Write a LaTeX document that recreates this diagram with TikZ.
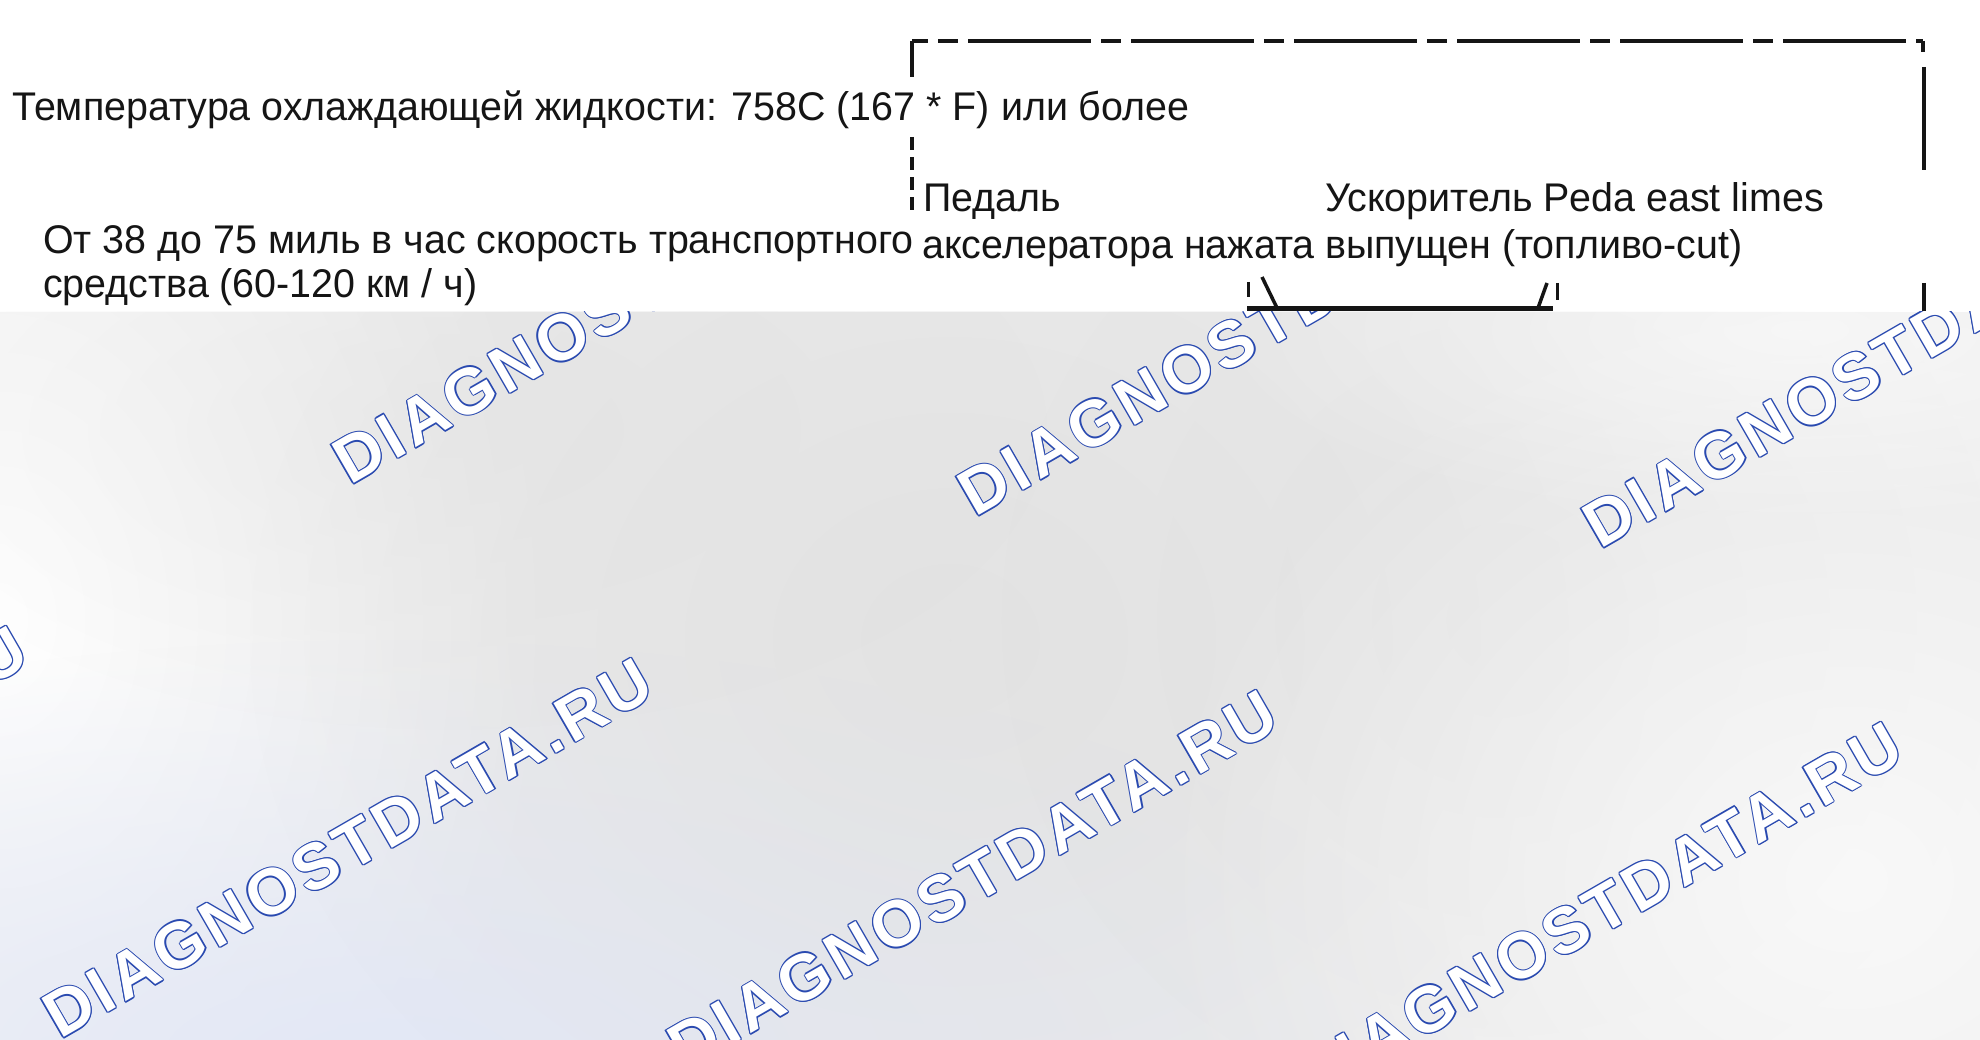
\documentclass[tikz,border=0pt]{standalone}
\usepackage{fontspec}
\setmainfont[FakeStretch=0.985]{Liberation Sans}
\newfontfamily\wmfont[LetterSpace=7]{Liberation Sans}
\usetikzlibrary{fadings}
\definecolor{ink}{HTML}{151515}
\definecolor{wmblue}{HTML}{2A4AB0}
\definecolor{bggrey}{HTML}{EBEBEB}
\definecolor{bluetint}{HTML}{E3E8F6}
\tikzfading[name=blobfade, inner color=transparent!0, outer color=transparent!100]
\tikzset{
  lbl/.style={anchor=base west, inner sep=0pt, text=ink, font=\fontsize{40}{46}\selectfont},
  boxline/.style={draw=ink, line width=3.5pt},
  wmb/.style={anchor=base west, inner sep=0pt, rotate=30, text=wmblue, font=\wmfont\bfseries\fontsize{65}{72}\selectfont},
  wmw/.style={wmb, text=white},
  blob/.style={path fading=blobfade},
}
\newcommand{\wmark}[3]{%
  \foreach \a in {0,45,...,315}{\node[wmb] at ([shift={(\a:1.2)}]#2,#3) {DIAGNOSTDATA.RU};}
  \node[wmw] (#1) at (#2,#3) {DIAGNOSTDATA.RU};
}
\begin{document}
\begin{tikzpicture}[x=1pt,y=-1pt]
\useasboundingbox (0,0) rectangle (1980,1040);
\fill[white] (0,0) rectangle (1980,1040);

% texts
\node[lbl] (t1) at (12,121) {Температура охлаждающей жидкости: 758C (167 * F) или более};
\node[lbl] (t2) at (43,254) {От 38 до 75 миль в час скорость транспортного};
\node[lbl] (t3) at (43,298) {средства (60-120 км / ч)};
\node[lbl] (t4) at (923,212) {Педаль};
\node[lbl] (t5) at (922,259) {акселератора нажата};
\node[lbl] (t6) at (1325,212) {Ускоритель Peda east limes};
\node[lbl] (t7) at (1325,259) {выпущен (топливо-cut)};

% dashed frame
\coordinate (tl) at (912,41);
\coordinate (tr) at (1923,41);
\draw[boxline, dash pattern=on 123pt off 10pt on 20pt off 10pt, dash phase=107pt] (tl) -- (tr);
\draw[boxline] (tl) -- (912,77);
\draw[boxline, dash pattern=on 13pt off 7pt] (912,137) -- (912,210);
\draw[boxline] (tr) -- (1923,52);
\draw[boxline] (1924,67) -- (1924,170);
\draw[boxline] (1924,283) -- (1924,330);

% lower marks
\draw[boxline, line width=3pt] (1248,282) -- (1248,297);
\draw[boxline] (1262,277) -- (1277,308);
\draw[boxline, line width=5pt] (1247,309) -- (1553,309);
\draw[boxline] (1547,283) -- (1538,308);
\draw[boxline, line width=3pt] (1557,283) -- (1557,300);

% grey lower area with watermarks
\begin{scope}
\clip (0,312) rectangle (1980,1040);
\fill[bggrey] (0,312) rectangle (1980,1040);
\fill[white, blob] (0,620) ellipse (560 and 760);
\fill[bluetint, blob] (380,1060) ellipse (1100 and 420);
\fill[black!14, blob, opacity=0.5] (950,640) ellipse (700 and 600);
\fill[black!13, blob, opacity=0.45] (1500,620) ellipse (500 and 500);
\fill[black!12, blob, opacity=0.4] (450,430) ellipse (600 and 300);
\fill[white, blob, opacity=0.7] (1850,880) ellipse (700 and 600);
\fill[white, blob, opacity=0.6] (1800,330) ellipse (600 and 200);
\wmark{w1}{350}{486}
\wmark{w2}{975}{518}
\wmark{w3}{1600}{550}
\wmark{w4}{-565}{1008}
\wmark{w5}{60}{1040}
\wmark{w6}{685}{1072}
\wmark{w7}{1310}{1104}
\end{scope}
\end{tikzpicture}
\end{document}
